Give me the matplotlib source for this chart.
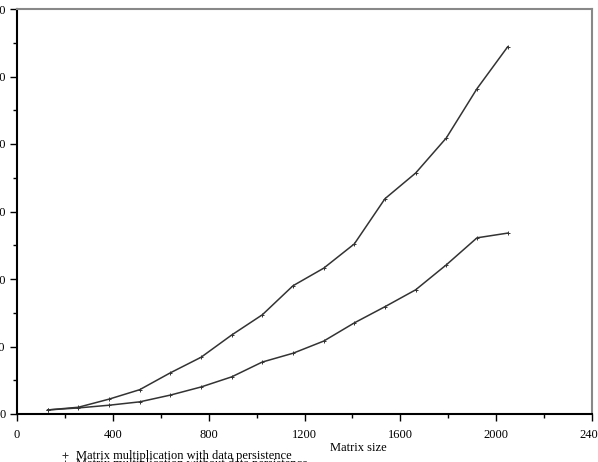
import matplotlib
matplotlib.use("Agg")
import matplotlib.pyplot as plt
from matplotlib.ticker import MultipleLocator

plt.rcParams['font.family'] = ['Liberation Serif', 'DejaVu Serif']

sizes = [128, 256, 384, 512, 640, 768, 896, 1024, 1152, 1280, 1408, 1536, 1664, 1792, 1920, 2048]
with_persist = [0.6, 1.0, 2.2, 3.6, 6.1, 8.4, 11.7, 14.7, 19.0, 21.6, 25.2, 31.9, 35.7, 40.9, 48.2, 54.4]
without_persist = [0.6, 0.9, 1.3, 1.8, 2.8, 4.0, 5.5, 7.7, 9.0, 10.8, 13.5, 15.9, 18.4, 22.1, 26.1, 26.8]
xticks = [0, 400, 800, 1200, 1600, 2000, 2400]
yticks = [0, 10, 20, 30, 40, 50, 60]
labels = ["Matrix multiplication with data persistence",
          "Matrix multiplication without data persistence"]

fig = plt.figure(figsize=(5.98, 4.62), dpi=100)
ax = fig.add_axes([17/598, 48/462, 575/598, 405/462])

ax.plot(sizes, with_persist, color='#333333', lw=1.1, marker='+', ms=3.5, mew=0.7, label=labels[0])
ax.plot(sizes, without_persist, color='#333333', lw=1.1, marker='+', ms=3.5, mew=0.7, label=labels[1])

ax.set_xlim(0, 2400)
ax.set_ylim(0, 60)
ax.set_xticks(xticks)
ax.set_yticks(yticks)
ax.xaxis.set_minor_locator(MultipleLocator(200))
ax.yaxis.set_minor_locator(MultipleLocator(5))
ax.tick_params(axis='both', which='major', length=5, width=1, labelsize=9, direction='out')
ax.tick_params(axis='both', which='minor', length=3, width=1, direction='out')
ax.tick_params(axis='x', pad=6)
ax.tick_params(axis='y', pad=3)

for s in ['left', 'bottom']:
    ax.spines[s].set_linewidth(1.5)
    ax.spines[s].set_color('black')
for s in ['top', 'right']:
    ax.spines[s].set_linewidth(1.5)
    ax.spines[s].set_color('#888888')

ax.set_xlabel("Matrix size", fontsize=9)
ax.xaxis.set_label_coords((358-17)/575, (414-442)/405)

leg = fig.legend(loc='upper left', bbox_to_anchor=(60/598, 1-450/462), frameon=False,
                 fontsize=9, handlelength=0.8, handletextpad=0.5, labelspacing=-0.3,
                 borderaxespad=0, borderpad=0, markerscale=1.3)
for h in leg.legend_handles:
    h.set_linestyle('none')

fig.savefig("out.png", dpi=100)
